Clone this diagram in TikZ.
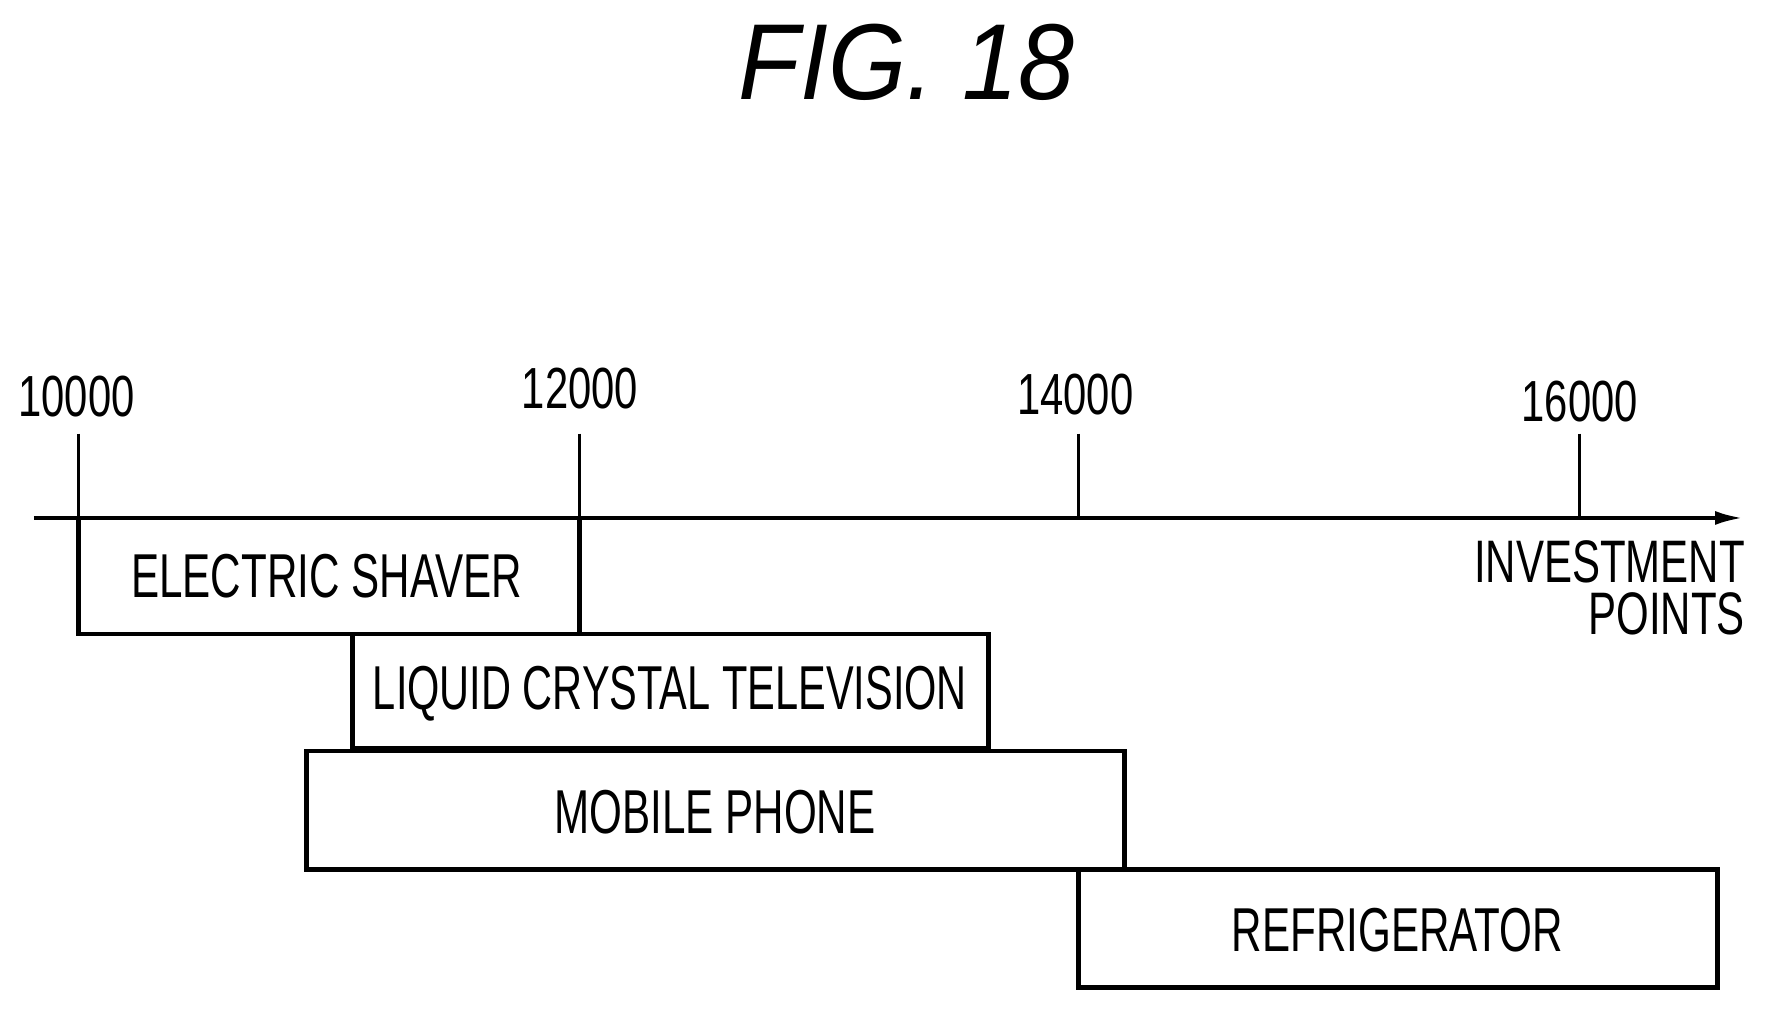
\documentclass[tikz,border=0pt]{standalone}
\usepackage{fontspec}
\setmainfont{Liberation Sans}
\usetikzlibrary{arrows.meta}
\newcommand{\nar}[2][0.68]{\scalebox{#1}[1]{#2}}
\begin{document}
\begin{tikzpicture}[x=0.563pt,y=-0.563pt,
  bx/.style={draw,line width=2.4pt},
  lab/.style={font=\fontsize{31}{31}\selectfont},
  tk/.style={font=\fontsize{29}{29}\selectfont},
  every node/.style={inner sep=0pt}]
\useasboundingbox (0,0) rectangle (1567.5,897);
\node[font=\fontsize{54}{54}\selectfont\itshape] (title) at (805,55) {\nar[0.93]{FIG. 18}};
\coordinate (a0) at (30,460); \coordinate (a1) at (1548,460);
\draw[line width=2pt,-{Latex[length=14pt,width=7pt]}] (a0) -- (a1);
\foreach \n/\x/\y in {t1/70/352,t2/515/345,t3/958/350,t4/1403/357}{
  \coordinate (\n b) at (\x,460); \coordinate (\n a) at (\x,385);
  \draw[line width=1.6pt] (\n a) -- (\n b);}
\node[tk] (l1) at (68,352) {\nar[0.72]{10000}};
\node[tk] (l2) at (515,345) {\nar[0.72]{12000}};
\node[tk] (l3) at (955,350) {\nar[0.72]{14000}};
\node[tk] (l4) at (1403,357) {\nar[0.72]{16000}};
\node[lab,align=right,anchor=north east,font=\fontsize{30}{26}\selectfont] (ip) at (1550,480) {\nar[0.7]{INVESTMENT}\\\nar[0.7]{POINTS}};
\draw[bx] (70,460) rectangle (515,563);
\node[lab] (es) at (290,512) {\nar{ELECTRIC SHAVER}};
\draw[bx] (313,563) rectangle (878,665);
\node[lab] (lc) at (595,616) {\nar[0.67]{LIQUID CRYSTAL TELEVISION}};
\draw[bx] (272,667) rectangle (999,772);
\node[lab] (mp) at (635,721) {\nar{MOBILE PHONE}};
\draw[bx] (958,772) rectangle (1525,877);
\node[lab] (rf) at (1241,826) {\nar{REFRIGERATOR}};
\end{tikzpicture}
\end{document}
